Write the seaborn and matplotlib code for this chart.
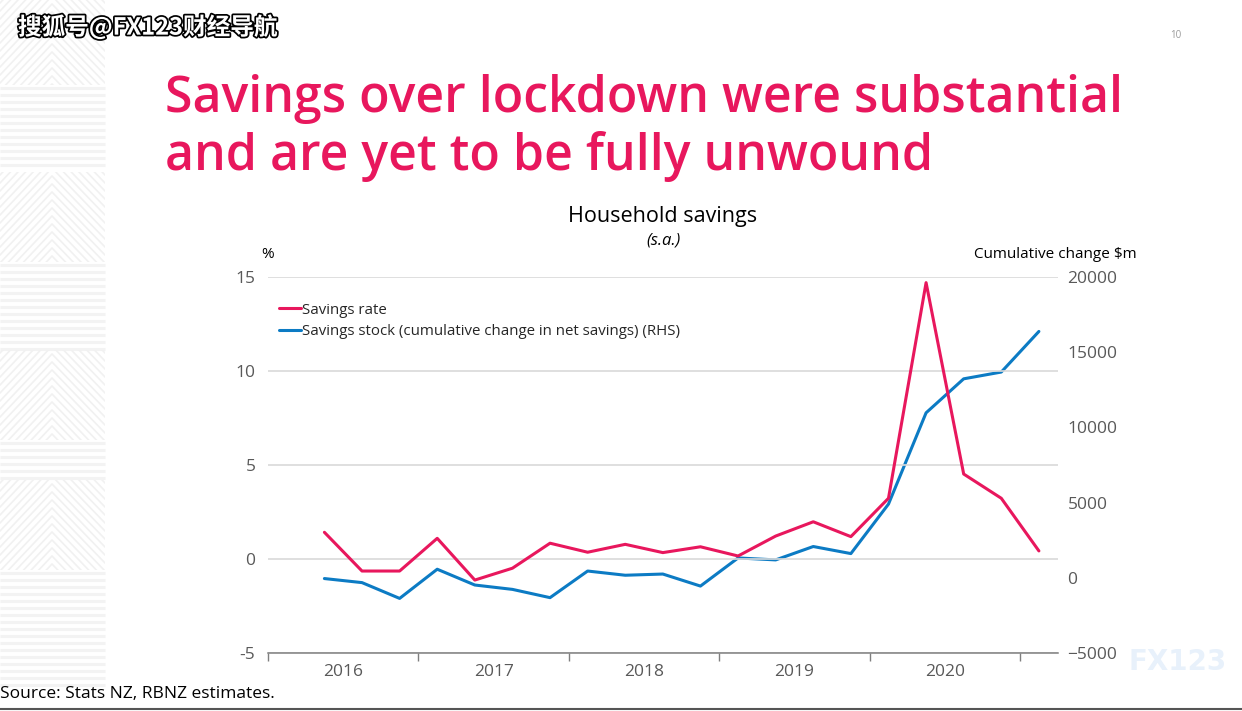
import numpy as np
import pandas as pd
import seaborn as sns
import matplotlib.pyplot as plt
import matplotlib.patheffects as pe
from matplotlib.patches import Rectangle

# data, quarterly 2016Q2 .. 2021Q1
quarters = ['2016Q2', '2016Q3', '2016Q4', '2017Q1', '2017Q2', '2017Q3', '2017Q4',
            '2018Q1', '2018Q2', '2018Q3', '2018Q4', '2019Q1', '2019Q2', '2019Q3',
            '2019Q4', '2020Q1', '2020Q2', '2020Q3', '2020Q4', '2021Q1']
savings_rate = [1.42, -0.64, -0.64, 1.10, -1.12, -0.49, 0.84, 0.36, 0.78, 0.34,
                0.65, 0.16, 1.22, 1.98, 1.19, 3.23, 14.70, 4.52, 3.23, 0.43]
savings_stock = [-50, -320, -1370, 570, -480, -770, -1320, 450, 170, 250,
                 -550, 1320, 1190, 2080, 1610, 4900, 10970, 13230, 13680, 16380]
years = [2016, 2017, 2018, 2019, 2020]

df = pd.DataFrame({'quarter': quarters, 'rate': savings_rate, 'stock': savings_stock})
df['t'] = [int(q[:4]) + (int(q[-1]) - 0.5) / 4 for q in df['quarter']]

PINK = '#E8175D'
BLUE = '#0C7BC4'
GREY = '#595959'

sns.set_theme(style='white')
plt.rcParams['font.family'] = ['Open Sans', 'DejaVu Sans']

fig = plt.figure(figsize=(12.42, 7.11), dpi=100)

# background decoration on the left side (faint stripes and chevrons)
bg = fig.add_axes([0, 0, 1, 1], zorder=-5)
bg.set_xlim(0, 1242)
bg.set_ylim(711, 0)
bg.axis('off')
blocks = [(0, 85, 'chev'), (85, 172, 'hor'), (172, 262, 'chev'), (262, 350, 'hor'),
          (350, 440, 'chev'), (440, 480, 'hor'), (480, 570, 'chev'), (570, 690, 'hor')]
for y0, y1, kind in blocks:
    if kind == 'hor':
        for y in np.arange(y0 + 3, y1, 7):
            bg.plot([0, 105], [y, y], color='#f3f3f3', lw=2.2, solid_capstyle='butt')
    else:
        clip = Rectangle((0, y0), 105, y1 - y0, transform=bg.transData)
        for y in np.arange(y0 - 60, y1 + 10, 8):
            ln, = bg.plot([0, 52, 105], [y + 55, y, y + 55], color='#f1f1f1', lw=1.2)
            ln.set_clip_path(clip)
bg.plot([0, 1242], [709, 709], color='#555555', lw=1.5)
bg.text(1178, 662, 'FX123', color='#e8f1fb', fontsize=20, fontweight='bold',
        ha='center', va='center', family=['DejaVu Sans'], zorder=0)

ax = fig.add_axes([268 / 1242, 58 / 711, 789.7 / 1242, 376 / 711])
ax2 = ax.twinx()

sns.lineplot(data=df, x='t', y='rate', ax=ax, color=PINK, lw=2.2, label='Savings rate', legend=False)
sns.lineplot(data=df, x='t', y='stock', ax=ax2, color=BLUE, lw=2.2,
             label='Savings stock (cumulative change in net savings) (RHS)', legend=False)
ax.set_zorder(ax2.get_zorder() + 1)
ax.patch.set_visible(False)
ax2.patch.set_visible(False)

ax.set_xlim(2016, 2021.25)
ax.set_ylim(-5, 15)
ax2.set_ylim(-5000, 20000)
ax.set_yticks([-5, 0, 5, 10, 15])
ax2.set_yticks([-5000, 0, 5000, 10000, 15000, 20000])
ax.set_yticklabels(['-5', '0', '5', '10', '15'])
ax.grid(axis='y', color='#d9d9d9', lw=1.2)
ax.grid(axis='x', visible=False)
ax2.grid(False)

ax.set_xticks([2016, 2017, 2018, 2019, 2020, 2021])
ax.set_xticklabels([])
ax.set_xticks([y + 0.5 for y in years], minor=True)
ax.set_xticklabels([str(y) for y in years], minor=True)
ax.tick_params(axis='x', which='major', length=6, color='#7f7f7f', width=1, direction='out', bottom=True)
ax.tick_params(axis='x', which='minor', length=0, labelsize=12.5, labelcolor=GREY, pad=8)
ax.tick_params(axis='y', length=0, labelsize=12.5, labelcolor=GREY, pad=9)
ax2.tick_params(axis='y', length=0, labelsize=12.5, labelcolor=GREY, pad=7)
ax.set_xlabel('')
ax.set_ylabel('')
ax2.set_ylabel('')

for a in (ax, ax2):
    for s in ('top', 'left', 'right', 'bottom'):
        a.spines[s].set_visible(False)
ax.spines['bottom'].set_visible(True)
ax.spines['bottom'].set_color('#7f7f7f')
ax.spines['bottom'].set_linewidth(1.1)

handles = [ax.lines[0], ax2.lines[0]]
ax.legend(handles=handles, labels=[h.get_label() for h in handles], loc='upper left',
          bbox_to_anchor=(0.0, 0.96), frameon=False, fontsize=10.8, handlelength=1.5,
          handletextpad=0.1, labelspacing=0.45, borderaxespad=0.3)

# texts
fig.text(165 / 1242, 1 - 112 / 711, 'Savings over lockdown were substantial', color=PINK,
         fontsize=36, fontweight='semibold', va='baseline', ha='left')
fig.text(165 / 1242, 1 - 170 / 711, 'and are yet to be fully unwound', color=PINK,
         fontsize=36, fontweight='semibold', va='baseline', ha='left')
fig.text(663 / 1242, 1 - 216 / 711, 'Household savings', fontsize=15.5, color='black',
         ha='center', va='center')
fig.text(663 / 1242, 1 - 241 / 711, '(s.a.)', fontsize=12, style='italic', color='black',
         ha='center', va='center')
fig.text(268 / 1242, 1 - 254 / 711, '%', fontsize=11, color='black', ha='center', va='center')
fig.text(1137 / 1242, 1 - 254 / 711, 'Cumulative change $m', fontsize=11, color='black',
         ha='right', va='center')
fig.text(0, 1 - 694 / 711, 'Source: Stats NZ, RBNZ estimates.', fontsize=12.5, color='black',
         ha='left', va='center')
fig.text(1176 / 1242, 1 - 36 / 711, '10', fontsize=7, color='#9a9a9a', ha='center', va='center')
fig.text(18 / 1242, 1 - 27 / 711, '搜狐号@FX123财经导航', fontsize=17, color='white',
         fontweight='bold', ha='left', va='center', family=['Noto Sans CJK SC', 'DejaVu Sans'],
         path_effects=[pe.withStroke(linewidth=2.5, foreground='black')])

plt.savefig('out.png', dpi=100)
